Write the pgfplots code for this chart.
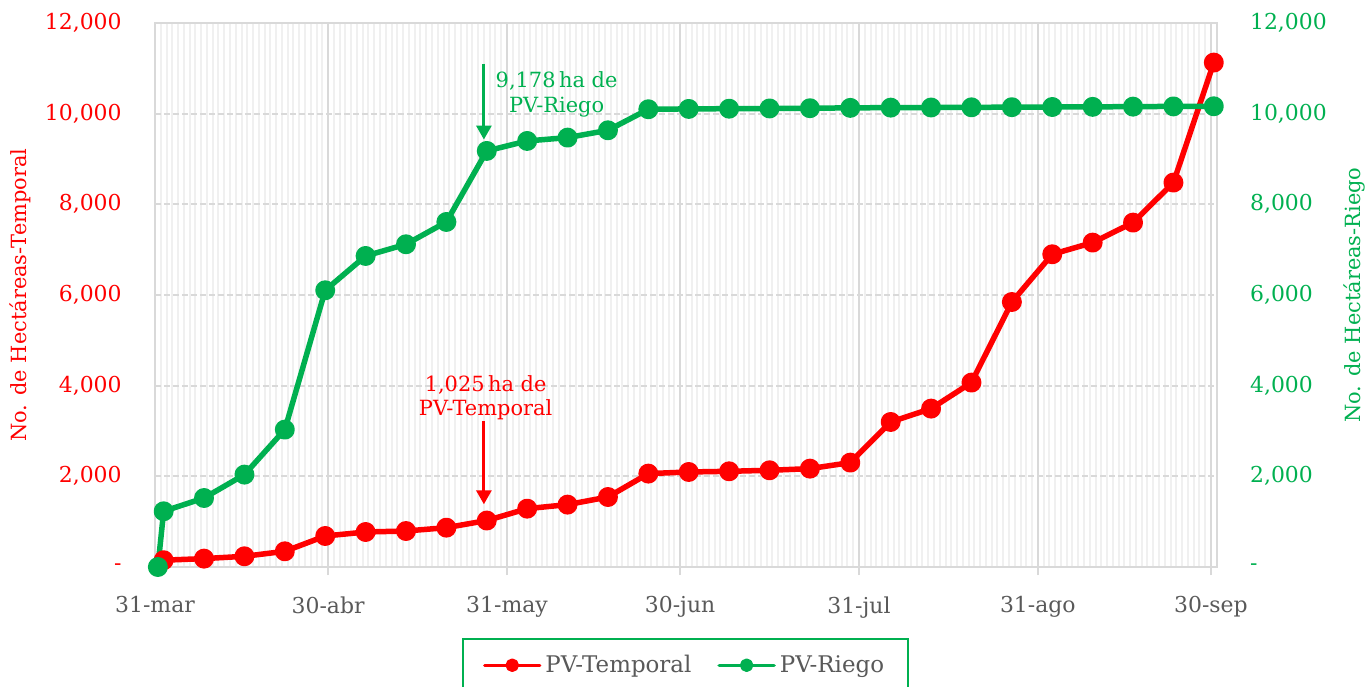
\documentclass[border=0pt]{standalone}
\usepackage{fontspec}
\setmainfont{DejaVu Serif}
\usepackage{pgfplots}
\usepackage{pgfplotstable}
\pgfplotsset{compat=1.18}
\usetikzlibrary{arrows.meta}
\definecolor{cred}{HTML}{FF0000}
\definecolor{cgreen}{HTML}{00B050}
\definecolor{ctext}{HTML}{595959}
\definecolor{cgrid}{HTML}{D9D9D9}
\definecolor{cminor}{HTML}{F0F0F0}

\pgfplotstableread{
x y
1.5 150
8.5 185
15.5 236
22.5 346
29.5 684
36.5 772
43.5 794
50.5 868
57.5 1025
64.5 1287
71.5 1376
78.5 1544
85.5 2060
92.5 2096
99.5 2111
106.5 2133
113.5 2170
120.5 2303
127.5 3199
134.5 3494
141.5 4068
148.5 5846
155.5 6898
162.5 7156
169.5 7597
176.5 8480
183.5 11127
}\temporal

\pgfplotstableread{
x y
0.5 0
1.5 1229
8.5 1522
15.5 2038
22.5 3031
29.5 6104
36.5 6861
43.5 7119
50.5 7611
57.5 9178
64.5 9398
71.5 9472
78.5 9633
85.5 10097
92.5 10105
99.5 10110
106.5 10115
113.5 10120
120.5 10128
127.5 10133
134.5 10136
141.5 10140
148.5 10143
155.5 10147
162.5 10150
169.5 10155
176.5 10160
183.5 10163
}\riego

\begin{document}
\fontsize{10.5}{12.5}\selectfont
\begin{tikzpicture}
\begin{axis}[
  scale only axis, width=530.85bp, height=272bp,
  xmin=0, xmax=184, ymin=0, ymax=12000,
  scaled y ticks=false, scaled x ticks=false,
  xtick={0,30,61,91,122,153,183},
  xticklabels={31-mar,30-abr,31-may,30-jun,31-jul,31-ago,30-sep},
  minor xtick={0,1,...,184},
  ytick={0,2000,4000,6000,8000,10000,12000},
  yticklabels={-,{2,000},{4,000},{6,000},{8,000},{10,000},{12,000}},
  xticklabel style={text=ctext, font=\fontsize{11}{13}\selectfont},
  yticklabel style={text=cred, font=\fontsize{11}{13}\selectfont},
  tick align=outside,
  major tick length=4bp,
  minor tick length=0pt,
  xtick pos=left,
  ytick pos=left,
  xtick style={cgrid, line width=1bp},
  ytick style={draw=none},
  xticklabel shift=7bp,
  yticklabel shift=9bp,
  axis line style={cgrid, line width=1bp},
  xmajorgrids, ymajorgrids, xminorgrids,
  major x grid style={cgrid, line width=1bp},
  minor x grid style={cminor, line width=1bp},
  major y grid style={cgrid, line width=1bp, dash pattern=on 3bp off 1.5bp},
  every axis y label/.style={at={(axis description cs:-0.1272,0.5)}, rotate=90, anchor=center, text=cred},
  ylabel={No. de Hectáreas-Temporal},
  legend columns=2,
  legend cell align=left,
  legend style={at={(axis description cs:0.2892,-0.1305)}, anchor=north west,
    draw=cgreen, line width=1bp, text=ctext, inner xsep=10bp, inner ysep=6bp,
    font=\fontsize{11.5}{13}\selectfont,
    nodes={inner xsep=2bp},
    /tikz/every even column/.append style={column sep=11bp}},
  legend image code/.code={
    \draw[#1, line width=1.7bp, line cap=round, mark options={scale=0.7}, mark repeat=2, mark phase=2]
      plot coordinates {(0bp,0bp) (13.75bp,0bp) (27.5bp,0bp)};},
]
\coordinate (ll) at (rel axis cs:0,0);
\addplot[cred, line width=2.75bp, line join=round, mark=*, mark size=3.6bp, mark options={solid}] table {\temporal};
\addlegendentry{PV-Temporal}
\addplot[cgreen, line width=2.75bp, line join=round, mark=*, mark size=3.6bp, mark options={solid}] table {\riego};
\addlegendentry{PV-Riego}
\draw[cgreen, line width=1.5bp, -{Triangle[length=7bp,width=7.5bp]}] (axis cs:57,11105) -- (axis cs:57,9429);
\node[text=cgreen, align=center] at (axis cs:69.6,10424) {9,178\,ha de\\PV-Riego};
\draw[cred, line width=1.5bp, -{Triangle[length=7bp,width=7.5bp]}] (axis cs:57,3215) -- (axis cs:57,1383);
\node[text=cred, align=center] at (axis cs:57.3,3733) {1,025\,ha de\\PV-Temporal};
\end{axis}
\begin{axis}[
  scale only axis, width=530.85bp, height=272bp,
  xmin=0, xmax=184, ymin=0, ymax=12000,
  scaled y ticks=false, scaled x ticks=false,
  axis x line=none,
  axis y line*=right,
  axis line style={draw=none},
  ytick={0,2000,4000,6000,8000,10000,12000},
  yticklabels={-,{2,000},{4,000},{6,000},{8,000},{10,000},{12,000}},
  yticklabel style={text=cgreen, font=\fontsize{11}{13}\selectfont},
  tick align=outside,
  major tick length=4bp,
  ytick style={draw=none},
  yticklabel shift=9bp,
  every axis y label/.style={at={(axis description cs:1.13,0.5)}, rotate=90, anchor=center, text=cgreen},
  ylabel={No. de Hectáreas-Riego},
]
\end{axis}
\pgfresetboundingbox
\path[use as bounding box] (ll) ++(-77.5bp,-60bp) rectangle ++(684bp,343.5bp);
\end{tikzpicture}
\end{document}
